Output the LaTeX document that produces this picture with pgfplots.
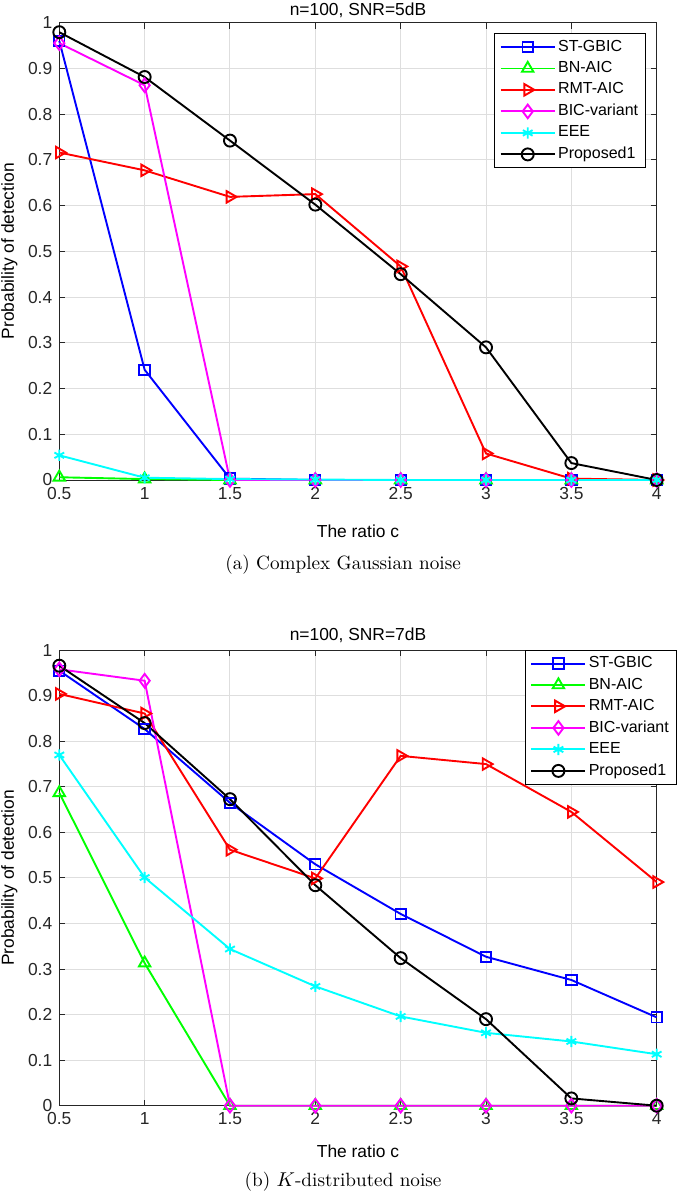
\documentclass[border=0pt]{standalone}
\usepackage{fontspec}
\newfontfamily\axfont{Liberation Sans}
\usepackage{pgfplots}
\pgfplotsset{compat=1.18}
\definecolor{axgray}{rgb}{0.15,0.15,0.15}
\definecolor{gridgray}{rgb}{0.87,0.87,0.87}
\definecolor{mblue}{rgb}{0,0,1}
\definecolor{mgreen}{rgb}{0,1,0}
\definecolor{mred}{rgb}{1,0,0}
\definecolor{mmag}{rgb}{1,0,1}
\definecolor{mcyan}{rgb}{0,1,1}
\definecolor{mblack}{rgb}{0,0,0}
\pgfplotsset{
  mlab/.style={
    scale only axis,
    width=298.7pt,
    xmin=0.5, xmax=4, ymin=0, ymax=1,
    xtick={0.5,1,1.5,2,2.5,3,3.5,4},
    xticklabels={0.5,1,1.5,2,2.5,3,3.5,4},
    ytick={0,0.1,0.2,0.3,0.4,0.5,0.6,0.7,0.8,0.9,1},
    yticklabels={0,0.1,0.2,0.3,0.4,0.5,0.6,0.7,0.8,0.9,1},
    /pgf/number format/assume math mode=true,
    font=\axfont\fontsize{8.7}{10.4}\selectfont,
    tick label style={font=\axfont\fontsize{8.7}{10.4}\selectfont, text=axgray},
    axis line style={axgray, line width=0.5pt},
    major tick length=3pt,
    tick style={axgray, line width=0.5pt},
    grid=major,
    major grid style={gridgray, line width=0.5pt},
    tick pos=both,
    tick align=inside,
    xlabel={The ratio c},
    ylabel={Probability of detection},
    ylabel style={at={(axis description cs:-0.0834,0.5)}, anchor=center},
    legend cell align=left,
    legend style={font=\axfont\fontsize{8}{9.6}\selectfont, draw=black, line width=0.5pt, fill=white,
      row sep=0.4pt, inner xsep=2.5pt, inner ysep=1.5pt, nodes={inner xsep=1.2pt, inner ysep=1.6pt}},
    legend image code/.code={\draw[mark repeat=2,mark phase=2,#1] plot coordinates {(0pt,0pt) (13.5pt,0pt) (27pt,0pt)};},
    every axis plot/.append style={line width=0.95pt, mark size=3pt},
    clip=false,
  },
  sgbic/.style={mblue, mark=square, mark size=2.6pt, mark options={solid}},
  sbn/.style={mgreen, mark=triangle, mark size=3.3pt, mark options={solid}},
  srmt/.style={mred, mark=triangle, mark size=3.3pt, mark options={solid, rotate=-90}},
  sbic/.style={mmag, mark=diamond, mark size=3.4pt, mark options={solid}},
  seee/.style={mcyan, mark=asterisk, mark size=2.8pt, mark options={solid}},
  sprop/.style={mblack, mark=o, mark size=3pt, mark options={solid}},
}
\begin{document}
\begin{tikzpicture}
\begin{axis}[mlab, name=top, at={(0,0)}, anchor=south west,
  height=228.7pt,
  title={n=100, SNR=5dB},
  every axis title/.style={at={(axis description cs:0.5,1.0275)}, anchor=center},
  xlabel style={at={(axis description cs:0.5,-0.1115)}, anchor=center},
  legend style={at={(axis description cs:1,1)}, anchor=north east, xshift=-5.35pt, yshift=-5.35pt},
]
\addplot[sgbic] coordinates {(0.5,0.960) (1,0.241) (1.5,0.003) (2,0) (2.5,0) (3,0) (3.5,0) (4,0)};
\addplot[sbn] coordinates {(0.5,0.006) (1,0.002) (1.5,0) (2,0) (2.5,0) (3,0) (3.5,0) (4,0)};
\addplot[srmt] coordinates {(0.5,0.716) (1,0.677) (1.5,0.619) (2,0.625) (2.5,0.467) (3,0.058) (3.5,0.003) (4,0)};
\addplot[sbic] coordinates {(0.5,0.955) (1,0.863) (1.5,0) (2,0) (2.5,0) (3,0) (3.5,0) (4,0)};
\addplot[seee] coordinates {(0.5,0.054) (1,0.005) (1.5,0.002) (2,0.001) (2.5,0) (3,0) (3.5,0) (4,0)};
\addplot[sprop] coordinates {(0.5,0.979) (1,0.881) (1.5,0.742) (2,0.602) (2.5,0.450) (3,0.290) (3.5,0.037) (4,0)};
\legend{ST-GBIC,BN-AIC,RMT-AIC,BIC-variant,EEE,Proposed1}
\end{axis}
\node[anchor=center, font=\fontsize{9.6}{11}\selectfont] at (141.9pt,-42.5pt) {(a) Complex Gaussian noise};
\begin{axis}[mlab, name=bot, at={(0,-312.85pt)}, anchor=south west,
  height=227.75pt,
  title={n=100, SNR=7dB},
  every axis title/.style={at={(axis description cs:0.5,1.0334)}, anchor=center},
  xlabel style={at={(axis description cs:0.5,-0.0999)}, anchor=center},
  legend style={at={(axis description cs:1,1)}, anchor=north east, xshift=10pt, yshift=0.2pt},
]
\addplot[sgbic] coordinates {(0.5,0.955) (1,0.827) (1.5,0.665) (2,0.530) (2.5,0.421) (3,0.327) (3.5,0.276) (4,0.194)};
\addplot[sbn] coordinates {(0.5,0.687) (1,0.313) (1.5,0) (2,0) (2.5,0) (3,0) (3.5,0) (4,0)};
\addplot[srmt] coordinates {(0.5,0.904) (1,0.861) (1.5,0.562) (2,0.499) (2.5,0.768) (3,0.750) (3.5,0.645) (4,0.491)};
\addplot[sbic] coordinates {(0.5,0.958) (1,0.933) (1.5,0) (2,0) (2.5,0) (3,0) (3.5,0) (4,0)};
\addplot[seee] coordinates {(0.5,0.770) (1,0.501) (1.5,0.344) (2,0.262) (2.5,0.196) (3,0.160) (3.5,0.141) (4,0.113)};
\addplot[sprop] coordinates {(0.5,0.966) (1,0.840) (1.5,0.673) (2,0.484) (2.5,0.324) (3,0.190) (3.5,0.016) (4,0)};
\legend{ST-GBIC,BN-AIC,RMT-AIC,BIC-variant,EEE,Proposed1}
\end{axis}
\node[anchor=center, font=\fontsize{9.6}{11}\selectfont] at (141.9pt,-312.85pt-38pt) {(b) $K$-distributed noise};
\pgfresetboundingbox
\path (-29.65pt,-357pt) rectangle (312.85pt,240pt);
\end{tikzpicture}
\end{document}
